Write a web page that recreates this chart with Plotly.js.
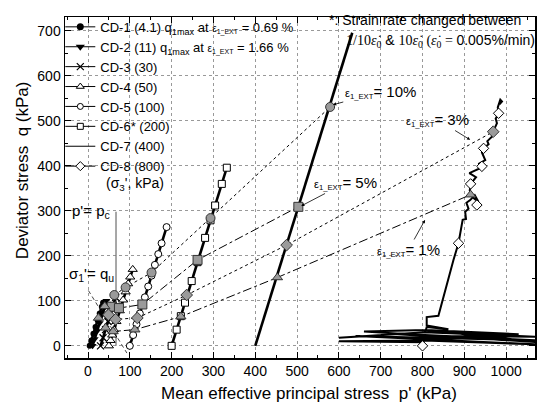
<!DOCTYPE html>
<html><head><meta charset="utf-8">
<script src="https://cdn.plot.ly/plotly-3.0.1.min.js"></script>
<style>html,body{margin:0;padding:0;background:#fff}</style>
</head><body><div id="chart" style="width:538px;height:405px"></div>
<script>
// ---- data (p' in kPa, q in kPa) ----
const legendNames = [
  'CD-1 (4.1) q<sub>1max</sub> at <span style="font-size:10px">ε<sub>1_EXT</sub></span> = 0.69 %',
  'CD-2 (11) q<sub>1max</sub> at <span style="font-size:10px">ε<sub>1_EXT</sub></span> = 1.66 %',
  'CD-3 (30)', 'CD-4 (50)', 'CD-5 (100)', 'CD-6* (200)', 'CD-7 (400)', 'CD-8 (800)'
];
const cd1P = [4, 8, 13, 18, 23, 28, 33, 36];
const cd1Q = [0, 12, 27, 42, 57, 72, 87, 96];
const cd2P = [11, 16, 22, 28, 34, 39, 44];
const cd2Q = [0, 15, 33, 51, 69, 84, 100];
const cd3P = [30, 36, 42, 48, 54, 60, 66];
const cd3Q = [0, 18, 36, 54, 72, 90, 108];
const cd4P = [50, 54, 58, 62, 68, 76, 84, 90, 96, 101, 107];
const cd4Q = [0, 12, 24, 36, 54, 78, 102, 120, 138, 153, 170];
const cd5P = [100, 108, 116, 124, 136, 144, 152, 160, 168, 176, 188];
const cd5Q = [0, 24, 48, 72, 108, 132, 156, 180, 204, 228, 264];
const cd6P = [200, 212, 222, 232, 248, 262, 280, 293, 304, 320, 332];
const cd6Q = [0, 36, 66, 96, 144, 186, 240, 279, 312, 360, 396];
const cd7P = [400, 450, 500, 550, 600, 632];
const cd7Q = [0, 150, 300, 450, 600, 696];
const cd8P = [800, 802, 600, 805, 1080, 803, 640, 808, 1080, 806, 700, 810, 1080, 806, 600, 812, 1030, 808, 660, 810, 1080, 808, 810, 862, 810, 810, 838, 874, 886, 896, 904, 902, 910, 905, 914, 925, 934, 920, 913, 915, 928, 912, 938, 935, 950, 942, 946, 958, 955, 966, 969, 978, 975, 982, 980, 986, 990, 984];
const cd8Q = [0, 8, 10, 12, 3, 16, 22, 18, 12, 24, 28, 22, 20, 30, 18, 30, 26, 35, 32, 24, 8, 35, 42, 37, 45, 64, 67, 191, 228, 280, 282, 298, 305, 318, 324, 335, 320, 330, 345, 360, 375, 384, 395, 405, 413, 430, 439, 448, 455, 465, 476, 495, 505, 517, 530, 547, 543, 537];
const cd8MarkP = [800, 886, 930, 915, 942, 946, 982];
const cd8MarkQ = [0, 228, 313, 360, 399, 439, 517];
// strain contours (epsilon_1_EXT)
const e10P = [63, 90, 152, 293, 579];
const e10Q = [113, 130, 163, 284, 531];
const e5P = [57, 74, 130, 262, 503];
const e5Q = [87, 84, 92, 191, 309];
const e3P = [49, 66, 118, 236, 475, 969];
const e3Q = [69, 59, 62, 113, 224, 476];
const e1P = [25, 40, 42, 60, 112, 222, 453, 915];
const e1Q = [62, 88, 40, 32, 36, 65, 152, 336];
// reference lines
const pcP = [67, 67];
const pcQ = [0, 298];
const quP = [1, 93];
const quQ = [123, -16];
const xTitle = 'Mean effective principal stress\u00a0 p\' (kPa)';
const yTitle = 'Deviator stress\u00a0 q (kPa)';

const thick = {color: '#000', width: 2.6};
const grayMk = (sym) => ({symbol: sym, size: 9, color: '#9a9a9a', line: {color: '#333', width: 1}});
const openMk = (sym, s) => ({symbol: sym, size: s || 7, color: '#fff', line: {color: '#000', width: 1}});

const traces = [
  {x: e10P, y: e10Q, mode: 'lines', line: {color: '#000', width: 1, dash: 'dot'}, showlegend: false},
  {x: e5P, y: e5Q, mode: 'lines', line: {color: '#000', width: 1, dash: 'dashdot'}, showlegend: false},
  {x: e3P, y: e3Q, mode: 'lines', line: {color: '#000', width: 1, dash: 'dot'}, showlegend: false},
  {x: e1P, y: e1Q, mode: 'lines', line: {color: '#000', width: 1, dash: 'dashdot'}, showlegend: false},
  {x: pcP, y: pcQ, mode: 'lines', line: {color: '#777', width: 1.3}, showlegend: false},
  {x: quP, y: quQ, mode: 'lines', line: {color: '#444', width: 1, dash: '4px,3px'}, showlegend: false},
  {x: cd1P, y: cd1Q, mode: 'lines+markers', line: thick, marker: {symbol: 'circle', size: 6, color: '#000'}, showlegend: false},
  {x: cd2P, y: cd2Q, mode: 'lines+markers', line: thick, marker: {symbol: 'triangle-down', size: 7, color: '#000'}, showlegend: false},
  {x: cd3P, y: cd3Q, mode: 'lines+markers', line: thick, marker: {symbol: 'x-thin', size: 7, line: {color: '#000', width: 1.3}}, showlegend: false},
  {x: cd4P, y: cd4Q, mode: 'lines+markers', line: thick, marker: openMk('triangle-up', 8), showlegend: false},
  {x: cd5P, y: cd5Q, mode: 'lines+markers', line: thick, marker: openMk('circle', 7), showlegend: false},
  {x: cd6P, y: cd6Q, mode: 'lines+markers', line: thick, marker: openMk('square', 7), showlegend: false},
  {x: cd7P, y: cd7Q, mode: 'lines', line: thick, showlegend: false},
  {x: cd8P, y: cd8Q, mode: 'lines', line: {color: '#000', width: 2}, showlegend: false},
  {x: cd8MarkP, y: cd8MarkQ, mode: 'markers', marker: openMk('diamond', 8), showlegend: false},
  {x: e10P, y: e10Q, mode: 'markers', marker: grayMk('circle'), showlegend: false},
  {x: e5P, y: e5Q, mode: 'markers', marker: grayMk('square'), showlegend: false},
  {x: e3P, y: e3Q, mode: 'markers', marker: grayMk('diamond'), showlegend: false},
  {x: e1P, y: e1Q, mode: 'markers', marker: grayMk('triangle-up'), showlegend: false}
];
// legend entries
const legMarkers = [
  {symbol: 'circle', size: 7, color: '#000'},
  {symbol: 'triangle-down', size: 8, color: '#000'},
  {symbol: 'x-thin', size: 7, line: {color: '#000', width: 1.2}},
  openMk('triangle-up', 7), openMk('circle', 6), openMk('square', 6), null, openMk('diamond', 7)
];
legendNames.forEach((nm, i) => {
  const t = {x: [null], y: [null], name: nm, mode: legMarkers[i] ? 'lines+markers' : 'lines',
             line: {color: '#000', width: 1}, showlegend: true};
  if (legMarkers[i]) t.marker = legMarkers[i];
  traces.push(t);
});

const F = 'Liberation Sans, Arial, sans-serif';
const epsLab = (v) => '<span style="font-size:11px">ε<sub>1_EXT</sub></span>= ' + v;
const ann = (x, y, ax, ay, text) => ({x, y, ax, ay, axref: 'x', ayref: 'y', xref: 'x', yref: 'y', text,
  showarrow: true, arrowhead: 2, arrowsize: 0.8, arrowwidth: 0.8, arrowcolor: '#000', font: {size: 15, family: F, color: '#000'}});
const txt = (x, y, text, size) => ({x, y, xref: 'x', yref: 'y', text, showarrow: false, font: {size: size || 15, family: F, color: '#000'}});

const layout = {
  width: 538, height: 405,
  margin: {l: 65, r: 3, t: 17, b: 47, autoexpand: false},
  paper_bgcolor: '#fff', plot_bgcolor: '#fff',
  font: {family: F, size: 14, color: '#000'},
  showlegend: true,
  legend: {x: -0.01, y: 1.015, xanchor: 'left', yanchor: 'top', bgcolor: 'rgba(0,0,0,0)', font: {size: 13, family: F}, tracegroupgap: 0},
  xaxis: {range: [-55, 1069], tick0: 0, dtick: 100, ticks: 'inside', ticklen: 6, tickwidth: 1, tickcolor: '#000',
          minor: {dtick: 50, ticks: 'inside', ticklen: 3, tickcolor: '#000', showgrid: false},
          showline: true, linecolor: '#000', linewidth: 1.5, mirror: 'ticks', zeroline: false, automargin: false,
          showgrid: true, gridcolor: '#999', griddash: 'dot', gridwidth: 1, tickfont: {size: 14}},
  yaxis: {range: [-27, 731], tick0: 0, dtick: 100, ticks: 'inside', ticklen: 6, tickwidth: 1, tickcolor: '#000',
          minor: {dtick: 50, ticks: 'inside', ticklen: 3, tickcolor: '#000', showgrid: false},
          showline: true, linecolor: '#000', linewidth: 1.5, mirror: 'ticks', zeroline: false, automargin: false,
          showgrid: true, gridcolor: '#999', griddash: 'dot', gridwidth: 1, tickfont: {size: 14}},
  annotations: [
    {xref: 'paper', yref: 'paper', x: 0.52, y: -0.104, xanchor: 'center', yanchor: 'middle', text: xTitle, showarrow: false, font: {size: 17, family: F, color: '#000'}},
    {xref: 'paper', yref: 'paper', x: -0.09, y: 0.55, xanchor: 'center', yanchor: 'middle', textangle: -90, text: yTitle, showarrow: false, font: {size: 17, family: F, color: '#000'}},
    txt(806, 724, '*: Strain rate changed between', 14),
    txt(842, 678, '<span style="font-family:Liberation Serif">1/10<i>ε̇</i><sub>0</sub></span> &amp; <span style="font-family:Liberation Serif">10<i>ε̇</i><sub>0</sub> (<i>ε̇</i><sub>0</sub> = </span>0.005%/min)', 14),
    ann(586, 536, 699, 564, epsLab('10%')),
    ann(914, 458, 837, 502, epsLab('3%')),
    ann(510, 311, 615, 362, epsLab('5%')),
    ann(806, 280, 766, 213, epsLab('1%')),
    txt(8, 298, 'p\'= p<sub>c</sub>', 15),
    txt(9, 158, 'σ<sub>1</sub>\'= q<sub>u</sub>', 15),
    txt(112, 360, '(σ<sub>3</sub>\', kPa)', 14)
  ]
};
Plotly.newPlot('chart', traces, layout, {displayModeBar: false, staticPlot: true});
</script></body></html>
